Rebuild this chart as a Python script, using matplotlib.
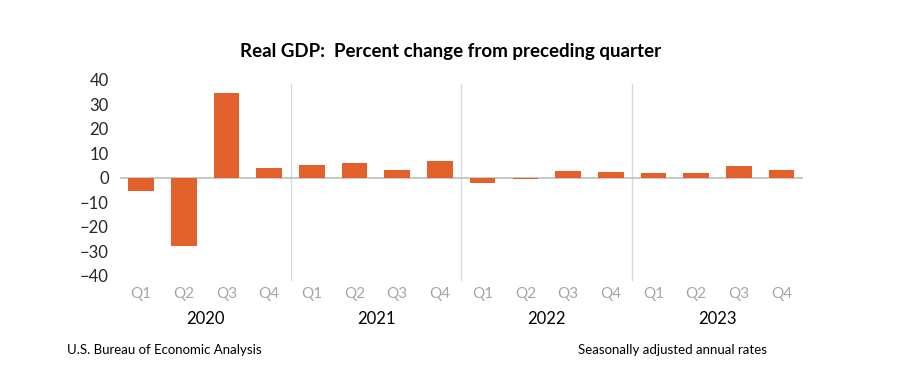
import matplotlib.pyplot as plt
import numpy as np

plt.rcParams['font.family'] = ['Lato', 'DejaVu Sans']

years = ['2020', '2021', '2022', '2023']
quarters = ['Q1', 'Q2', 'Q3', 'Q4']
gdp = [-5.3, -28.0, 34.8, 4.2,
       5.2, 6.2, 3.3, 7.0,
       -2.0, -0.6, 2.7, 2.6,
       2.2, 2.1, 4.9, 3.4]

BAR = '#E2612B'
GRID = '#D9D9D9'

fig = plt.figure(figsize=(9.01, 3.88), dpi=100)
ax = fig.add_axes([0.133, 0.289, 0.758, 0.505])

x = np.arange(len(gdp))
ax.bar(x, gdp, width=0.6, color=BAR, zorder=3)
ax.set_xlim(-0.5, len(gdp) - 0.5)
ax.set_ylim(-40, 40)
ax.set_yticks(np.arange(-40, 41, 10))
ax.axhline(0, color='#BFBFBF', lw=1.2, zorder=2)

for s in ax.spines.values():
    s.set_visible(False)
ax.tick_params(axis='y', length=0, labelsize=12, labelcolor='#262626', pad=8)
ax.set_xticks(x)
ax.set_xticklabels(quarters * len(years), fontsize=11, color='#A6A6A6')
ax.tick_params(axis='x', length=0, pad=8)

# year separators
for k in range(1, len(years)):
    ax.axvline(k * 4 - 0.5, ymin=-0.02, ymax=0.98, color=GRID, lw=1,
               zorder=1, clip_on=False)

# year labels
for k, yr in enumerate(years):
    ax.text(k * 4 + 1.5, -0.22, yr, transform=ax.get_xaxis_transform(),
            ha='center', va='center', fontsize=12, color='#000000')

fig.text(0.5, 0.866, 'Real GDP:  Percent change from preceding quarter',
         ha='center', va='center', fontsize=13.5, fontweight='bold')
fig.text(0.074, 0.098, 'U.S. Bureau of Economic Analysis', ha='left',
         va='center', fontsize=9.5)
fig.text(0.641, 0.098, 'Seasonally adjusted annual rates', ha='left',
         va='center', fontsize=9.5)

fig.savefig('out.png', dpi=100)
